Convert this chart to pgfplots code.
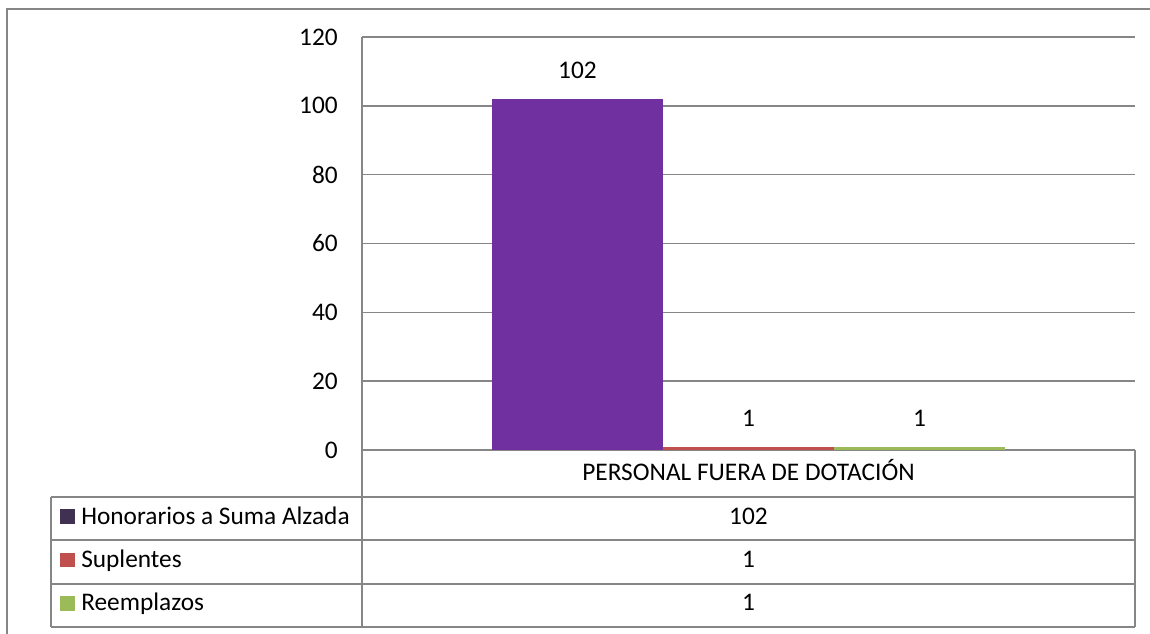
\documentclass[border=0pt]{standalone}
\usepackage{fontspec}
\setmainfont{Carlito}
\usepackage{pgfplots}
\pgfplotsset{compat=1.18}
\definecolor{purp}{HTML}{7030A0}
\definecolor{purpkey}{HTML}{403152}
\definecolor{redb}{HTML}{C0504D}
\definecolor{greenb}{HTML}{9BBB59}
\definecolor{gridgray}{HTML}{868686}
\newcommand{\chartfont}{\fontsize{19}{23}\selectfont}
\begin{document}
\chartfont
\begin{tikzpicture}[x=0.75pt,y=-0.75pt]
\useasboundingbox (0,0) rectangle (1150,634);
\begin{axis}[
  at={(271.5pt,-337.5pt)}, anchor=south west,
  scale only axis, width=579.75pt, height=309.75pt,
  xmin=-0.5, xmax=0.5, ymin=0, ymax=120,
  ytick={0,20,...,120}, xtick=\empty,
  ymajorgrids, grid style={draw=gridgray, line width=1.1pt},
  axis line style={draw=none}, major tick length=0pt,
  ybar, bar width=128.25pt, clip=false,
  /pgf/number format/assume math mode=true,
  yticklabel style={anchor=east, inner sep=0pt, xshift=-18pt, font=\chartfont},
  nodes near coords,
  every node near coord/.append style={anchor=south, inner sep=0pt, yshift=15pt, font=\chartfont, text=black},
]
\addplot[fill=purp, draw=none, bar shift=-128.25pt] coordinates {(0,102)};
\addplot[fill=redb, draw=none, bar shift=0pt] coordinates {(0,1)};
\addplot[fill=greenb, draw=none, bar shift=128.25pt] coordinates {(0,1)};
\end{axis}
% frame
\draw[gridgray, line width=1.1pt] (7,634) -- (7,9) -- (1150,9);
% data table
\begin{scope}[gridgray, line width=1.1pt]
\draw (51,497) -- (1135,497);
\draw (51,540) -- (1135,540);
\draw (51,584) -- (1135,584);
\draw (51,627) -- (1135,627);
\draw (51,497) -- (51,627);
\draw (362,37) -- (362,627);
\draw (1135,450) -- (1135,627);
\end{scope}
\fill[purpkey] (60,509.5) rectangle (75,524);
\fill[redb] (60,552.5) rectangle (75,567);
\fill[greenb] (60,596) rectangle (75,610.5);
\node[anchor=base west, inner sep=0pt] at (81,524) {Honorarios a Suma Alzada};
\node[anchor=base west, inner sep=0pt] at (81,567) {Suplentes};
\node[anchor=base west, inner sep=0pt] at (81,610.5) {Reemplazos};
\node[anchor=base, inner sep=0pt] at (748.5,480) {PERSONAL FUERA DE DOTACIÓN};
\node[anchor=base, inner sep=0pt] at (748.5,524) {102};
\node[anchor=base, inner sep=0pt] at (748.5,567) {1};
\node[anchor=base, inner sep=0pt] at (748.5,610.5) {1};
\end{tikzpicture}
\end{document}
